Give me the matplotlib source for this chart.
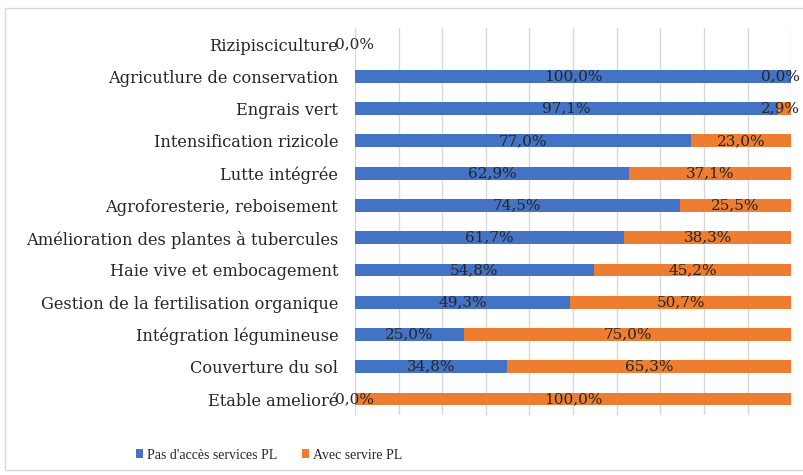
import matplotlib
matplotlib.use("Agg")
import matplotlib.pyplot as plt
import numpy as np
from matplotlib.patches import Rectangle

categories = [
    "Rizipisciculture",
    "Agricutlure de conservation",
    "Engrais vert",
    "Intensification rizicole",
    "Lutte intégrée",
    "Agroforesterie, reboisement",
    "Amélioration des plantes à tubercules",
    "Haie vive et embocagement",
    "Gestion de la fertilisation organique",
    "Intégration légumineuse",
    "Couverture du sol",
    "Etable amelioré",
]
pas_acces = [0.0, 100.0, 97.1, 77.0, 62.9, 74.5, 61.7, 54.8, 49.3, 25.0, 34.8, 0.0]
avec_service = [np.nan, 0.0, 2.9, 23.0, 37.1, 25.5, 38.3, 45.2, 50.7, 75.0, 65.3, 100.0]
series_names = ["Pas d'accès services PL", "Avec servire PL"]

plt.rcParams['font.family'] = ['DejaVu Serif']
FS_TICK = 11.7
FS_LAB = 11

fig = plt.figure(figsize=(8.04, 4.75), dpi=100)
ax = fig.add_axes([0.4415, 0.126, 0.984 - 0.4415, 0.941 - 0.126])

y = np.arange(len(categories))
blue = "#4472C4"
orange = "#ED7D31"
h = 0.4
a = np.array(pas_acces)
b = np.array(avec_service)
bars1 = ax.barh(y, a, height=h, color=blue, label=series_names[0])
bars2 = ax.barh(y, np.nan_to_num(b), left=a, height=h, color=orange, label=series_names[1])

def fmt(v):
    return f"{v:.1f}%".replace(".", ",")

for i in range(len(categories)):
    if not np.isnan(a[i]):
        ax.text(a[i] / 2, y[i], fmt(a[i]), ha="center", va="center", fontsize=FS_LAB, color="#262626")
    if not np.isnan(b[i]):
        xc = min(a[i] + b[i] / 2, 97.6)
        ax.text(xc, y[i], fmt(b[i]), ha="center", va="center", fontsize=FS_LAB, color="#262626")

ax.set_xlim(0, 100)
ax.set_ylim(len(categories) - 0.5, -0.5)
ax.set_yticks(y)
ax.set_yticklabels(categories, fontsize=FS_TICK)
ax.set_xticks(np.arange(0, 101, 10))
ax.tick_params(axis="x", length=0, labelbottom=False)
ax.tick_params(axis="y", length=0, pad=12, labelcolor="#262626")
ax.grid(axis="x", color="#D9D9D9", linewidth=1)
ax.set_axisbelow(True)
for s in ax.spines.values():
    s.set_visible(False)

fig.legend(handles=[bars1, bars2], loc="center", bbox_to_anchor=(0.335, 0.042),
           ncol=2, frameon=False, prop={'family': 'Liberation Serif', 'size': 10},
           handlelength=0.5, handleheight=0.6,
           columnspacing=1.8, handletextpad=0.3, labelcolor="#262626")

fig.patches.append(Rectangle((0.006, 0.01), 1.2, 0.973, transform=fig.transFigure,
                             fill=False, edgecolor="#D9D9D9", linewidth=1))

fig.savefig("out.png", dpi=100)
